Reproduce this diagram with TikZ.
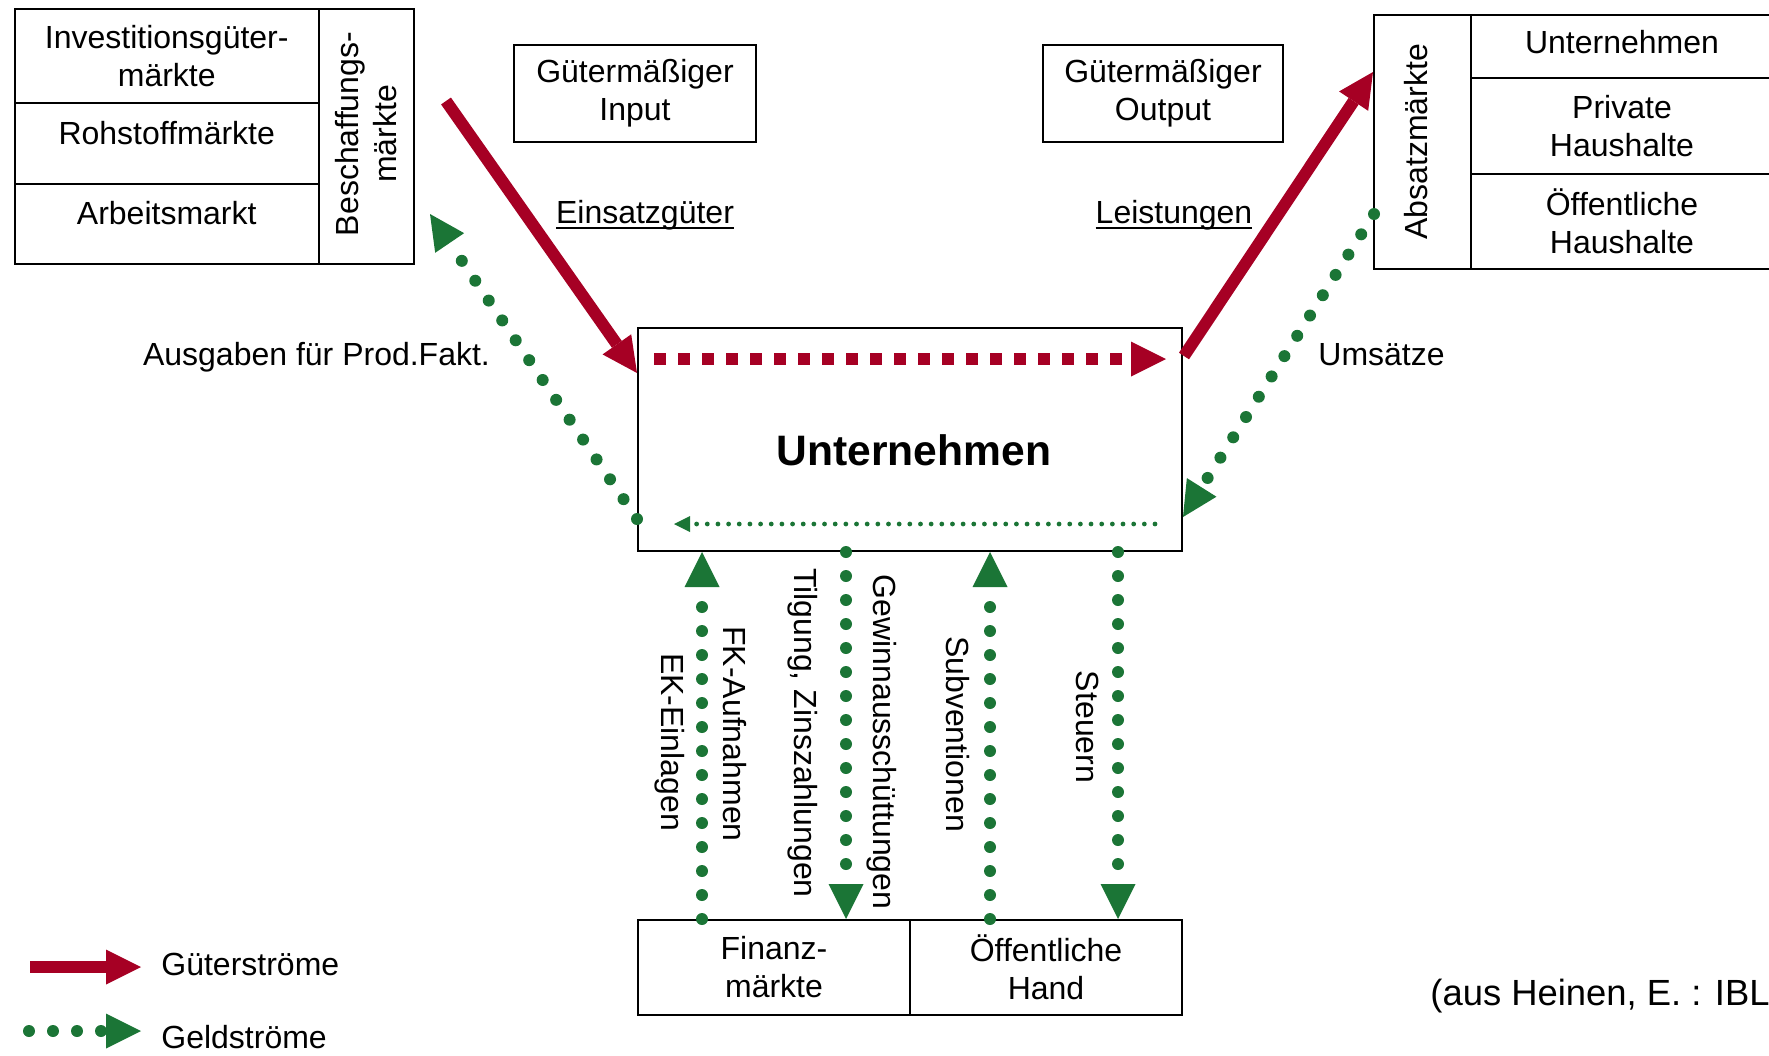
\documentclass[tikz,border=0pt]{standalone}
\usepackage{fontspec}
\setmainfont{Liberation Sans}
\usetikzlibrary{arrows.meta}
\definecolor{gutrot}{RGB}{166,0,36}
\definecolor{geldgruen}{RGB}{27,117,54}
\newlength\ulen
\newcommand\ustrich[1]{\settowidth\ulen{#1}\rlap{\rule[-3.1pt]{\ulen}{1.2pt}}#1}
\begin{document}
\begin{tikzpicture}[x=0.5pt,y=-0.5pt,
  every node/.style={font=\fontsize{16}{19}\selectfont, align=center, inner sep=0pt},
  feld/.style={draw, line width=1pt, anchor=north west},
  gut/.style={draw=gutrot, line width=6pt, -{Triangle[length=17.5pt,width=17.5pt,line width=0pt]}},
  gutpunkt/.style={gut, dash pattern=on 6pt off 6pt},
  geld/.style={draw=geldgruen, line width=6pt, line cap=round, dash pattern=on 0pt off 12pt,
    -{Triangle[length=17.5pt,width=17.5pt,line width=0pt]}},
  geldfein/.style={draw=geldgruen, line width=2.4pt, line cap=round, dash pattern=on 0pt off 5.33pt,
    -{Triangle[length=8pt,width=8pt,line width=0pt]}}]
\useasboundingbox (0,0) rectangle (1769,1056);
\node[feld, minimum width=152.25pt, minimum height=46.75pt] (inv) at (13.5,8) {Investitionsgüter-\\märkte};
\node[feld, minimum width=152.25pt, minimum height=40.75pt] (roh) at (13.5,101.5) {};
\node[feld, minimum width=152.25pt, minimum height=40pt] (arb) at (13.5,183) {};
\node[feld, minimum width=47.5pt, minimum height=127.5pt] (besch) at (318,8) {};
\node (troh) at ([yshift=5pt]roh.center) {Rohstoffmärkte};
\node (tarb) at ([yshift=5.5pt]arb.center) {Arbeitsmarkt};
\node[rotate=90] (tbesch) at ([yshift=1.25pt]besch.center) {Beschaffungs-\\märkte};
\node[feld, minimum width=48.5pt, minimum height=127.25pt] (absatz) at (1373,13.5) {};
\node[rotate=90] (tabsatz) at ([xshift=-3pt]absatz.center) {Absatzmärkte};
\node[feld, minimum width=151pt, minimum height=31.75pt] (kunden) at (1470,13.5) {};
\node (tkunden) at ([yshift=1.9pt]kunden.center) {Unternehmen};
\node[feld, minimum width=151pt, minimum height=48pt] (privat) at (1470,77) {Private\\Haushalte};
\node[feld, minimum width=151pt, minimum height=47.5pt] (oeffhh) at (1470,173) {Öffentliche\\Haushalte};
\node[feld, minimum width=121pt, minimum height=48.5pt] (input) at (513,44) {Gütermäßiger\\Input};
\node[feld, minimum width=120pt, minimum height=48.5pt] (output) at (1042,44) {Gütermäßiger\\Output};
\node[anchor=base] (einsatz) at (645,223) {\ustrich{Einsatzgüter}};
\node[anchor=base] (leist) at (1174,223) {\ustrich{Leistungen}};
\node[feld, minimum width=272pt, minimum height=111.5pt] (unt) at (637,327) {};
\node[anchor=base, font=\fontsize{21.3}{25}\selectfont\bfseries] (tunt) at (914,465) {Unternehmen};
\node[feld, minimum width=136pt, minimum height=47.5pt] (finanz) at (637,919) {Finanz-\\märkte};
\node[feld, minimum width=136pt, minimum height=47.5pt] (hand) at (909,919) {Öffentliche\\Hand};
\node[anchor=base] (ausg) at (316.5,365) {Ausgaben für Prod.Fakt.};
\node[anchor=base west] (ums) at (1318,365) {Umsätze};
\node[rotate=-90] (ek) at (670,742) {EK-Einlagen};
\node[rotate=-90] (fk) at (735,734) {FK-Aufnahmen};
\node[rotate=-90] (tilg) at (803,733) {Tilgung, Zinszahlungen};
\node[rotate=-90] (gew) at (882,742) {Gewinnausschüttungen};
\node[rotate=-90] (subv) at (958,734) {Subventionen};
\node[rotate=-90] (steu) at (1088,727) {Steuern};
\coordinate (rein1) at (446,101);
\coordinate (rein2) at (637,373);
\coordinate (intern1) at (654,359);
\coordinate (intern2) at (1166,359);
\coordinate (raus1) at (1184,356);
\coordinate (raus2) at (1373,72);
\coordinate (zahl1) at (637,519);
\coordinate (zahl2) at (430,214);
\coordinate (erl1) at (1374,214);
\coordinate (erl2) at (1183,517);
\coordinate (rueck1) at (1155,524);
\coordinate (rueck2) at (674,524);
\coordinate (fkfuss) at (702,919);
\coordinate (gewfuss) at (846,919);
\coordinate (subfuss) at (990,919);
\coordinate (steufuss) at (1118,919);
\draw[gut] (rein1) -- (rein2);
\draw[gutpunkt] (intern1) -- (intern2);
\draw[gut] (raus1) -- (raus2);
\draw[geld] (zahl1) -- (zahl2);
\draw[geld] (erl1) -- (erl2);
\draw[geldfein] (rueck1) -- (rueck2);
\draw[geld] (fkfuss) -- (fkfuss |- unt.south);
\draw[geld] (gewfuss |- unt.south) -- (gewfuss);
\draw[geld] (subfuss) -- (subfuss |- unt.south);
\draw[geld] (steufuss |- unt.south) -- (steufuss);
\coordinate (lg1) at (30,967);
\coordinate (lg2) at (141,967);
\coordinate (lg3) at (29,1031);
\coordinate (lg4) at (141,1031);
\draw[gut] (lg1) -- (lg2);
\draw[geld] (lg3) -- (lg4);
\node[anchor=base west] (lgut) at (161,975) {Güterströme};
\node[anchor=base west] (lgeld) at (161,1048) {Geldströme};
\node[anchor=base west, font=\fontsize{18.2}{21}\selectfont] (quelle) at (1430,1005) {(aus Heinen, E. : IBL};
\end{tikzpicture}
\end{document}
